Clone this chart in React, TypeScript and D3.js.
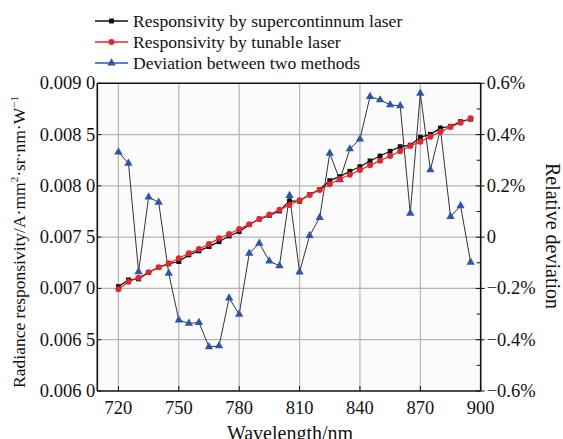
import React from "react";
import * as d3 from "d3";

const wavelengths = [720, 725, 730, 735, 740, 745, 750, 755, 760, 765, 770, 775, 780, 785, 790, 795, 800, 805, 810, 815, 820, 825, 830, 835, 840, 845, 850, 855, 860, 865, 870, 875, 880, 885, 890, 895];

const superResp = [0.007018, 0.007083, 0.007093, 0.007155, 0.007205, 0.00724, 0.007262, 0.007327, 0.007366, 0.007408, 0.007456, 0.007511, 0.007554, 0.007622, 0.007676, 0.007712, 0.007755, 0.007853, 0.00785, 0.007915, 0.007965, 0.008051, 0.00809, 0.008142, 0.008187, 0.008243, 0.008291, 0.008337, 0.008382, 0.008397, 0.008474, 0.008502, 0.008563, 0.008581, 0.008626, 0.00865];

const tunableResp = [0.006992, 0.007066, 0.007105, 0.007158, 0.007207, 0.007246, 0.007295, 0.007343, 0.007385, 0.007432, 0.007489, 0.007531, 0.00758, 0.007626, 0.007678, 0.00772, 0.007766, 0.007814, 0.00786, 0.007912, 0.00796, 0.008016, 0.008067, 0.008109, 0.008155, 0.0082, 0.008246, 0.008291, 0.008337, 0.008389, 0.008431, 0.00848, 0.008528, 0.008574, 0.008616, 0.008659];

const deviation = [0.332, 0.288, -0.135, 0.156, 0.136, -0.141, -0.323, -0.336, -0.333, -0.428, -0.424, -0.238, -0.301, -0.063, -0.024, -0.093, -0.112, 0.162, -0.136, 0.006, 0.076, 0.327, 0.223, 0.344, 0.382, 0.548, 0.535, 0.516, 0.512, 0.093, 0.561, 0.262, 0.421, 0.08, 0.122, -0.098];

const xTicks = [720, 750, 780, 810, 840, 870, 900];
const leftTicks = [0.006, 0.0065, 0.007, 0.0075, 0.008, 0.0085, 0.009];
const leftTickLabels = ["0.006 0", "0.006 5", "0.007 0", "0.007 5", "0.008 0", "0.008 5", "0.009 0"];
const rightTicks = [-0.6, -0.4, -0.2, 0, 0.2, 0.4, 0.6];
const rightTickLabels = ["\u22120.6%", "\u22120.4%", "\u22120.2%", "0", "0.2%", "0.4%", "0.6%"];
const rightMinorTicks = [-0.5, -0.3, -0.1, 0.1, 0.3, 0.5];

const legendLabels = [
  "Responsivity by supercontinnum laser",
  "Responsivity by tunable laser",
  "Deviation between two methods",
];

const FONT = "'Liberation Serif', 'Times New Roman', serif";

export default function App() {
  const left = 97.3, right = 480.7, top = 83.3, bottom = 391;
  const x = d3.scaleLinear().domain([709.5, 900]).range([left, right]);
  const yL = d3.scaleLinear().domain([0.006, 0.009]).range([bottom, top]);
  const yR = d3.scaleLinear().domain([-0.6, 0.6]).range([bottom, top]);

  const lineL = d3.line<number>().x((_, i) => x(wavelengths[i])).y((d) => yL(d));
  const lineR = d3.line<number>().x((_, i) => x(wavelengths[i])).y((d) => yR(d));

  const tri = d3.symbol().type(d3.symbolTriangle).size(30)();
  const sq = d3.symbol().type(d3.symbolSquare).size(24)();

  const blue = "#2b55b0";
  const red = "#e8242b";

  const legendColors = ["#111", red, blue];
  const legendMarkers = ["sq", "circ", "tri"];
  const TICK_FS = 18.5;

  return (
    <svg width={563} height={439} style={{ position: "absolute", left: 0, top: 0, background: "#fff" }}>
      <rect x={left} y={top} width={right - left} height={bottom - top} fill="#fbfbfb" />
      {/* grid */}
      {xTicks.slice(0, -1).map((t) => (
        <line key={"gx" + t} x1={x(t)} x2={x(t)} y1={top} y2={bottom} stroke="#b8b4b4" strokeWidth={1.2} />
      ))}
      {leftTicks.slice(1, -1).map((t) => (
        <line key={"gy" + t} x1={left} x2={right} y1={yL(t)} y2={yL(t)} stroke="#b8b4b4" strokeWidth={1.2} />
      ))}
      {/* x ticks */}
      {xTicks.map((t) => (
        <g key={"xt" + t}>
          <line x1={x(t)} x2={x(t)} y1={bottom} y2={bottom - 5} stroke="#111" strokeWidth={1} />
          <text x={x(t)} y={413.5} textAnchor="middle" fontFamily={FONT} fontSize={TICK_FS} fill="#111">{t}</text>
        </g>
      ))}
      {/* left ticks */}
      {leftTicks.map((t, i) => (
        <g key={"lt" + t}>
          <line x1={left} x2={left + 4} y1={yL(t)} y2={yL(t)} stroke="#111" strokeWidth={1} />
          <text x={left - 2} y={yL(t) + 6} textAnchor="end" fontFamily={FONT} fontSize={TICK_FS} fill="#111">{leftTickLabels[i]}</text>
        </g>
      ))}
      {/* right ticks */}
      {rightTicks.map((t, i) => (
        <g key={"rt" + t}>
          <line x1={right - 5} x2={right + 4} y1={yR(t)} y2={yR(t)} stroke="#111" strokeWidth={1} />
          <text x={right + 6} y={yR(t) + 6} textAnchor="start" fontFamily={FONT} fontSize={TICK_FS} fill="#111">{rightTickLabels[i]}</text>
        </g>
      ))}
      {rightMinorTicks.map((t) => (
        <line key={"rm" + t} x1={right - 4} x2={right} y1={yR(t)} y2={yR(t)} stroke="#111" strokeWidth={1} />
      ))}
      {/* axes frame */}
      <line x1={left} x2={left} y1={top} y2={bottom} stroke="#111" strokeWidth={1.6} />
      <line x1={right} x2={right} y1={top} y2={bottom} stroke="#111" strokeWidth={1.6} />
      <line x1={left} x2={right} y1={top} y2={top} stroke="#111" strokeWidth={1.6} />
      <line x1={left} x2={right} y1={bottom} y2={bottom} stroke="#111" strokeWidth={1.6} />

      {/* deviation series */}
      <path d={lineR(deviation) || ""} fill="none" stroke="#333" strokeWidth={1} />
      {deviation.map((d, i) => (
        <path key={"tr" + i} d={tri || ""} transform={`translate(${x(wavelengths[i])},${yR(d)})`} fill={blue} />
      ))}
      {/* supercontinuum series */}
      <path d={lineL(superResp) || ""} fill="none" stroke="#111" strokeWidth={1.2} />
      {superResp.map((d, i) => (
        <path key={"sq" + i} d={sq || ""} transform={`translate(${x(wavelengths[i])},${yL(d)})`} fill="#111" />
      ))}
      {/* tunable series */}
      <path d={lineL(tunableResp) || ""} fill="none" stroke={red} strokeWidth={1.2} />
      {tunableResp.map((d, i) => (
        <circle key={"ci" + i} cx={x(wavelengths[i])} cy={yL(d)} r={3} fill={red} />
      ))}

      {/* legend */}
      {legendLabels.map((lab, i) => {
        const ly = 21 + i * 21;
        return (
          <g key={"lg" + i}>
            <line x1={95} x2={128} y1={ly} y2={ly} stroke={legendColors[i]} strokeWidth={1.6} />
            {legendMarkers[i] === "sq" && <path d={sq || ""} transform={`translate(111.5,${ly})`} fill="#111" />}
            {legendMarkers[i] === "circ" && <circle cx={111.5} cy={ly} r={3} fill={red} />}
            {legendMarkers[i] === "tri" && <path d={tri || ""} transform={`translate(111.5,${ly})`} fill={blue} />}
            <text x={133} y={ly + 6} fontFamily={FONT} fontSize={17.6} fill="#111">{lab}</text>
          </g>
        );
      })}

      {/* axis titles */}
      <text x={290} y={440} textAnchor="middle" fontFamily={FONT} fontSize={20} fill="#111">Wavelength/nm</text>
      <text transform={`translate(25,242) rotate(-90)`} textAnchor="middle" fontFamily={FONT} fontSize={17.5} fill="#111">
        Radiance responsivity/A·mm<tspan dy={-7} fontSize={11}>2</tspan><tspan dy={7}>·sr·nm·W</tspan><tspan dy={-7} fontSize={11}>−1</tspan>
      </text>
      <text transform={`translate(546,236) rotate(90)`} textAnchor="middle" fontFamily={FONT} fontSize={20} fill="#111">Relative deviation</text>
    </svg>
  );
}
